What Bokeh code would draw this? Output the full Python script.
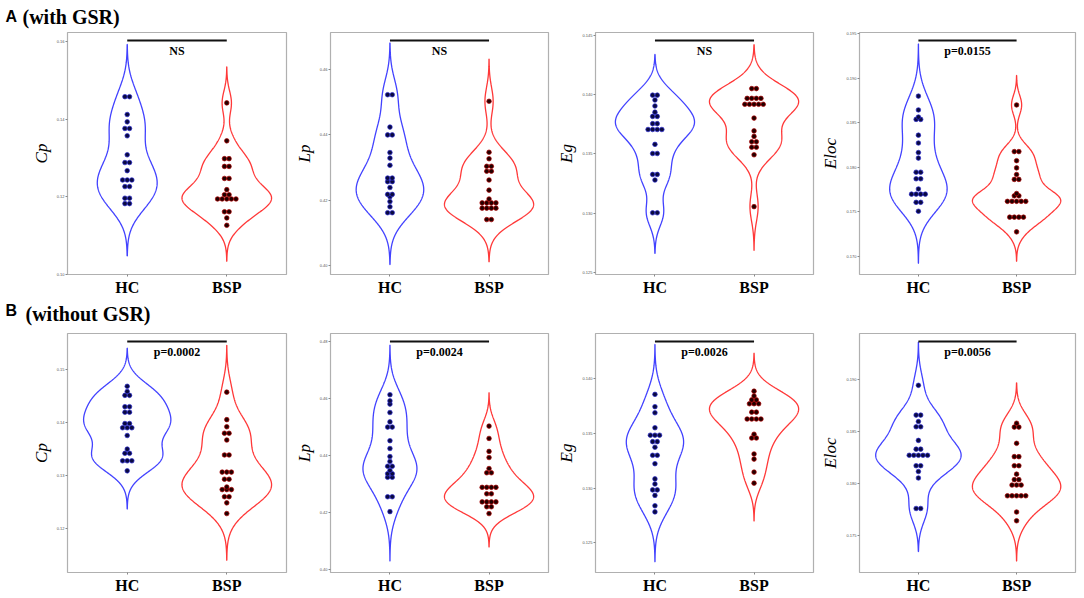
import numpy as np
from bokeh.plotting import figure
from bokeh.layouts import column, row
from bokeh.models import FixedTicker, Range1d
from bokeh.embed import file_html
from bokeh.resources import INLINE
from bokeh.core.properties import value

# ---------------- data ----------------
groups = ["HC", "BSP"]
metrics = ["Cp", "Lp", "Eg", "Eloc"]

# (A) with GSR
a_cp_hc = [0.1458, 0.1458, 0.1412, 0.1393, 0.1376, 0.1376, 0.1357, 0.1308, 0.1288, 0.1288,
           0.1267, 0.1243, 0.1243, 0.1243, 0.1226, 0.1226, 0.1196, 0.1196, 0.1182, 0.1182]
a_cp_bsp = [0.1442, 0.1344, 0.1298, 0.1298, 0.1278, 0.1278, 0.1247, 0.1247, 0.1218, 0.1205,
            0.1205, 0.1194, 0.1194, 0.1194, 0.1194, 0.1194, 0.1161, 0.1161, 0.1145, 0.1126]
a_lp_hc = [0.4523, 0.4523, 0.4424, 0.4400, 0.4400, 0.4346, 0.4329, 0.4307, 0.4268, 0.4268,
           0.4257, 0.4257, 0.4239, 0.4218, 0.4218, 0.4211, 0.4196, 0.4180, 0.4162, 0.4162]
a_lp_bsp = [0.4503, 0.4347, 0.4327, 0.4304, 0.4304, 0.4289, 0.4289, 0.4262, 0.4231, 0.4204,
            0.4192, 0.4192, 0.4192, 0.4192, 0.4176, 0.4176, 0.4176, 0.4176, 0.4141, 0.4141]
a_eg_hc = [0.13995, 0.13995, 0.13954, 0.13904, 0.13852, 0.13816, 0.13816, 0.13755, 0.13755,
           0.13706, 0.13706, 0.13706, 0.13706, 0.13581, 0.13504, 0.13504, 0.13328, 0.13328,
           0.13281, 0.13005, 0.13005]
a_eg_bsp = [0.14050, 0.14050, 0.13968, 0.13968, 0.13968, 0.13968, 0.13918, 0.13918, 0.13918,
            0.13918, 0.13918, 0.13802, 0.13694, 0.13648, 0.13603, 0.13603, 0.13557, 0.13557,
            0.13493, 0.13057]
a_eloc_hc = [0.18798, 0.18643, 0.18563, 0.18537, 0.18537, 0.18360, 0.18272, 0.18165, 0.18103,
             0.17945, 0.17945, 0.17871, 0.17871, 0.17757, 0.17699, 0.17699, 0.17699, 0.17699,
             0.17607, 0.17607, 0.17507]
a_eloc_bsp = [0.18699, 0.18176, 0.18176, 0.18074, 0.17993, 0.17919, 0.17864, 0.17864, 0.17706,
              0.17680, 0.17680, 0.17618, 0.17618, 0.17618, 0.17618, 0.17618, 0.17441, 0.17441,
              0.17441, 0.17441, 0.17276]

# (B) without GSR
b_cp_hc = [0.14683, 0.14585, 0.14512, 0.14512, 0.14299, 0.14299, 0.14195, 0.14195, 0.13982,
           0.13982, 0.13902, 0.13902, 0.13902, 0.13756, 0.13500, 0.13421, 0.13421, 0.13280,
           0.13280, 0.13280, 0.13091]
b_cp_bsp = [0.14573, 0.14055, 0.13921, 0.13799, 0.13799, 0.13671, 0.13390, 0.13390, 0.13067,
            0.13067, 0.13067, 0.12933, 0.12933, 0.12787, 0.12738, 0.12738, 0.12738, 0.12604,
            0.12604, 0.12488, 0.12287]
b_lp_hc = [0.46134, 0.45917, 0.45804, 0.45508, 0.45178, 0.44996, 0.44996, 0.44518, 0.44244,
           0.43960, 0.43789, 0.43619, 0.43619, 0.43471, 0.43357, 0.43357, 0.43232, 0.43232,
           0.42547, 0.42547, 0.42025]
b_lp_bsp = [0.45030, 0.44597, 0.44142, 0.43926, 0.43539, 0.43391, 0.43391, 0.42879, 0.42879,
            0.42879, 0.42879, 0.42651, 0.42651, 0.42367, 0.42367, 0.42367, 0.42367, 0.42196,
            0.42196, 0.41957]
b_eg_hc = [0.13858, 0.13745, 0.13689, 0.13552, 0.13484, 0.13484, 0.13484, 0.13425, 0.13425,
           0.13374, 0.13300, 0.13300, 0.13223, 0.13084, 0.13037, 0.12983, 0.12983, 0.12933,
           0.12838, 0.12782]
b_eg_bsp = [0.13887, 0.13843, 0.13807, 0.13807, 0.13772, 0.13772, 0.13772, 0.13695, 0.13695,
            0.13632, 0.13632, 0.13632, 0.13632, 0.13493, 0.13458, 0.13458, 0.13312, 0.13265,
            0.13146, 0.13045]
b_eloc_hc = [0.18947, 0.18661, 0.18661, 0.18599, 0.18549, 0.18549, 0.18418, 0.18334, 0.18334,
             0.18275, 0.18275, 0.18275, 0.18275, 0.18275, 0.18175, 0.18175, 0.18119, 0.18057,
             0.17764, 0.17764]
b_eloc_bsp = [0.18583, 0.18546, 0.18546, 0.18390, 0.18262, 0.18262, 0.18175, 0.18175, 0.18094,
              0.18041, 0.18041, 0.17989, 0.17989, 0.17989, 0.17886, 0.17886, 0.17886, 0.17886,
              0.17886, 0.17730, 0.17646]

# y-axis ticks and labels
a_ticks = [[0.10, 0.12, 0.14, 0.16],
           [0.40, 0.42, 0.44, 0.46],
           [0.125, 0.130, 0.135, 0.140, 0.145],
           [0.170, 0.175, 0.180, 0.185, 0.190, 0.195]]
a_tick_labels = [["0.10", "0.12", "0.14", "0.16"],
                 ["0.40", "0.42", "0.44", "0.46"],
                 ["0.125", "0.130", "0.135", "0.140", "0.145"],
                 ["0.170", "0.175", "0.180", "0.185", "0.190", "0.195"]]
b_ticks = [[0.12, 0.13, 0.14, 0.15],
           [0.40, 0.42, 0.44, 0.46, 0.48],
           [0.125, 0.130, 0.135, 0.140],
           [0.175, 0.180, 0.185, 0.190]]
b_tick_labels = [["0.12", "0.13", "0.14", "0.15"],
                 ["0.40", "0.42", "0.44", "0.46", "0.48"],
                 ["0.125", "0.130", "0.135", "0.140"],
                 ["0.175", "0.180", "0.185", "0.190"]]

a_sig = ["NS", "NS", "NS", "p=0.0155"]
b_sig = ["p=0.0002", "p=0.0024", "p=0.0026", "p=0.0056"]

titles = [("A", "(with GSR)"), ("B", "(without GSR)")]

# ---------------- layout / style ----------------
a_yranges = [(0.0999, 0.16237), (0.39729, 0.47134), (0.12486, 0.14522), (0.16798, 0.19511)]
b_yranges = [(0.11177, 0.15677), (0.39886, 0.48285), (0.12227, 0.14415), (0.17149, 0.19445)]

widths = [290, 263, 265, 266]
b_left = [67, 40, 42, 40]
b_right = [4, 5, 5, 9]

BLUE = "#4242ff"
RED = "#ff3838"
DOT_FILL = ["#0a0a40", "#220000"]
DOT_LINE = ["#2a2ad0", "#b00000"]
SERIF = "Liberation Serif"
SANS = "Liberation Sans"
DOT_PX = 4.6


def kde(vals):
    v = np.asarray(vals, dtype=float)
    n = len(v)
    sd = v.std(ddof=1)
    q75, q25 = np.percentile(v, [75, 25])
    bw = 0.9 * min(sd, (q75 - q25) / 1.34) * n ** -0.2
    grid = np.linspace(v.min() - 3 * bw, v.max() + 3 * bw, 400)
    dens = np.exp(-0.5 * ((grid[:, None] - v[None, :]) / bw) ** 2).sum(1) / (n * bw * np.sqrt(2 * np.pi))
    return grid, dens


def make_panel(hc, bsp, ylabel, yr, ticks, tlabels, sig, w, bl, br, h, bt, bb):
    fw = w - bl - br
    fh = h - bt - bb
    p = figure(width=w, height=h, x_range=Range1d(0.4, 2.6), y_range=Range1d(*yr),
               output_backend="svg", toolbar_location=None, title=None,
               min_border_left=bl, min_border_right=br, min_border_top=bt, min_border_bottom=bb)
    p.xgrid.visible = False
    p.ygrid.visible = False
    p.outline_line_color = "#b0b0b0"
    p.outline_line_width = 1.2
    p.background_fill_color = "white"
    p.border_fill_color = "white"

    data = [hc, bsp]
    kd = [kde(d) for d in data]
    mx = max(d.max() for _, d in kd)
    for i, ((g, d), col) in enumerate(zip(kd, [BLUE, RED])):
        c = i + 1
        hw = d / mx * 0.45
        xs = np.concatenate([c - hw, (c + hw)[::-1]])
        ys = np.concatenate([g, g[::-1]])
        p.patch(xs, ys, fill_alpha=0, line_color=col, line_width=1.3)

    dx = DOT_PX * 2.2 / fw
    for i, vals in enumerate(data):
        c = i + 1
        uniq, counts = np.unique(np.asarray(vals), return_counts=True)
        xs, ys = [], []
        for u, n in zip(uniq, counts):
            for k in range(n):
                xs.append(c + (k - (n - 1) / 2) * dx)
                ys.append(u)
        p.scatter(xs, ys, size=DOT_PX, fill_color=DOT_FILL[i], line_color=DOT_LINE[i], line_width=0.7)

    span = yr[1] - yr[0]
    yb = yr[1] - 8.0 / fh * span
    p.line([1, 2], [yb, yb], line_color="#111111", line_width=2)
    yt = yr[1] - 19.0 / fh * span
    p.text([1.5], [yt], text=[sig], text_font=value(SERIF), text_font_style="bold",
           text_font_size="12px", text_align="center", text_baseline="middle", text_color="black")

    p.xaxis.ticker = FixedTicker(ticks=[1, 2])
    p.xaxis.major_label_overrides = {1: groups[0], 2: groups[1]}
    p.xaxis.major_label_text_font = SERIF
    p.xaxis.major_label_text_font_style = "bold"
    p.xaxis.major_label_text_font_size = "16px"
    p.xaxis.major_label_text_color = "black"
    p.xaxis.major_label_standoff = 2

    p.yaxis.ticker = FixedTicker(ticks=ticks)
    p.yaxis.major_label_overrides = {t: l for t, l in zip(ticks, tlabels)}
    p.yaxis.major_label_text_font_size = "4px"
    p.yaxis.major_label_text_color = "#555555"
    p.yaxis.major_label_standoff = 1
    p.yaxis.axis_label = ylabel
    p.yaxis.axis_label_text_font = SERIF
    p.yaxis.axis_label_text_font_style = "italic"
    p.yaxis.axis_label_text_font_size = "17px"
    p.yaxis.axis_label_text_color = "black"
    p.yaxis.axis_label_standoff = 3

    p.axis.axis_line_color = None
    p.axis.major_tick_line_color = "#888888"
    p.axis.major_tick_out = 2
    p.axis.major_tick_in = 0
    p.axis.minor_tick_line_color = None
    return p


def header(h, letter, text, lx, ly, tx, ty):
    p = figure(width=1084, height=h, x_range=Range1d(0, 1084), y_range=Range1d(h, 0),
               output_backend="svg", toolbar_location=None, title=None,
               min_border_left=0, min_border_right=0, min_border_top=0, min_border_bottom=0,
               x_axis_type=None, y_axis_type=None)
    p.outline_line_color = None
    p.background_fill_color = "white"
    p.border_fill_color = "white"
    p.text([lx], [ly], text=[letter], text_font=value(SANS), text_font_style="bold",
           text_font_size="16px", text_baseline="middle", text_color="black")
    p.text([tx], [ty], text=[text], text_font=value(SERIF), text_font_style="bold",
           text_font_size="20px", text_baseline="middle", text_color="black")
    return p


a_data = [(a_cp_hc, a_cp_bsp), (a_lp_hc, a_lp_bsp), (a_eg_hc, a_eg_bsp), (a_eloc_hc, a_eloc_bsp)]
b_data = [(b_cp_hc, b_cp_bsp), (b_lp_hc, b_lp_bsp), (b_eg_hc, b_eg_bsp), (b_eloc_hc, b_eloc_bsp)]

row_a = []
row_b = []
for i in range(4):
    row_a.append(make_panel(a_data[i][0], a_data[i][1], metrics[i], a_yranges[i], a_ticks[i],
                            a_tick_labels[i], a_sig[i], widths[i], b_left[i], b_right[i],
                            267, 1, 23))
    row_b.append(make_panel(b_data[i][0], b_data[i][1], metrics[i], b_yranges[i], b_ticks[i],
                            b_tick_labels[i], b_sig[i], widths[i], b_left[i], b_right[i],
                            265, 2, 23))

head_a = header(31, titles[0][0], titles[0][1], 5, 16, 22, 16)
head_b = header(33, titles[1][0], titles[1][1], 5, 12, 25, 15)

layout = column(head_a, row(*row_a), head_b, row(*row_b))

open("out.html", "w").write(file_html(layout, INLINE))
